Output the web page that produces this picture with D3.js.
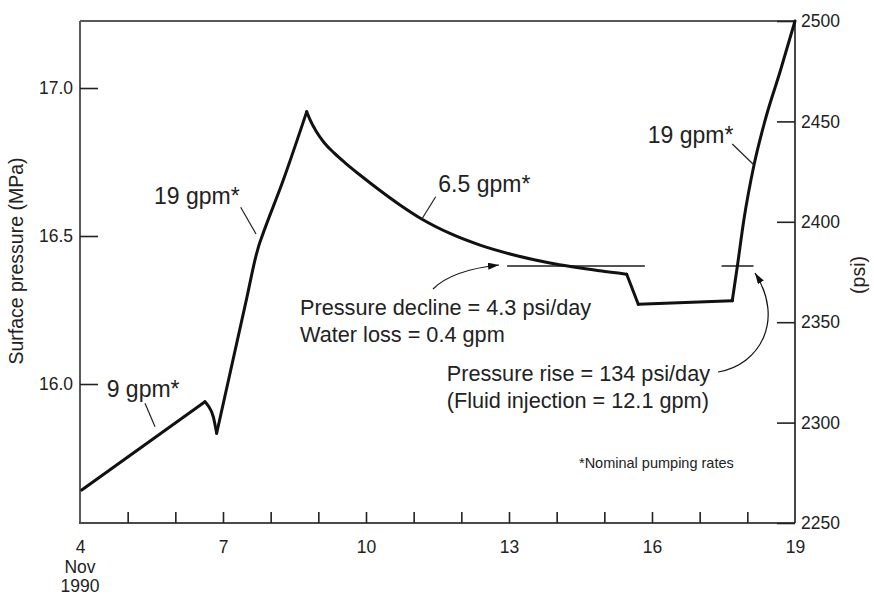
<!DOCTYPE html>
<html>
<head>
<meta charset="utf-8">
<script src="https://cdn.jsdelivr.net/npm/d3@7"></script>
<style>
  html, body { margin: 0; padding: 0; background: #fff; }
  svg { display: block; font-family: "Liberation Sans", Arial, Helvetica, sans-serif; }
</style>
</head>
<body>
<svg id="chart" width="874" height="596"></svg>
<script>
// ---- data (day of Nov 1990, surface pressure in psi) ----
const days = [4.036, 6.622, 6.692, 6.797, 6.867, 7.497, 7.692, 7.755, 7.818, 8.265, 8.756,
              8.825, 8.951, 9.119, 9.329, 9.580, 9.874, 10.294, 10.713, 11.168, 11.762, 12.392, 13.021,
              13.860, 14.909, 15.469,
              15.712, 17.684, 17.789, 17.930, 18.140, 18.392, 18.685, 19.0];
const psi  = [2266.4, 2310.4, 2308.3, 2302.9, 2294.7, 2361.9, 2383.0, 2388.4, 2392.7, 2420.8, 2454.8,
              2450.9, 2445.2, 2439.5, 2434.3, 2429.0, 2423.3, 2415.6, 2408.4, 2401.4, 2394.2, 2388.4, 2384.0,
              2379.5, 2375.6, 2373.9,
              2358.9, 2360.7, 2377.6, 2401.4, 2428.3, 2452.2, 2474.6, 2500.0];
// indices where the record has a sharp corner (pumping-rate changes)
const corners = [0, 1, 4, 10, 25, 26, 27, 33];

// reference level lines (start day, end day, psi)
const refStart = [12.96, 17.46];
const refEnd   = [15.85, 18.13];
const refPsi   = [2378, 2378];

// tick values / labels
const dayTicks = [4,5,6,7,8,9,10,11,12,13,14,15,16,17,18,19];
const dayLabeled = [4,7,10,13,16,19];
const mpaTicks = [16.0, 16.5, 17.0];
const psiTicks = [2250, 2300, 2350, 2400, 2450, 2500];

// ---- layout ----
const L = 80, R = 795, T = 21, B = 523;
const svg = d3.select("#chart");
const x = d3.scaleLinear().domain([4, 19]).range([L, R]);
const yPsi = d3.scaleLinear().domain([2250, 2500]).range([B, T]);
const yMpa = d3.scaleLinear().domain([15.5304, 17.2264]).range([B, T]);

const ink = "#222";
const tickFont = 17.5;

// frame
svg.append("line").attr("x1", L).attr("x2", R).attr("y1", T).attr("y2", T)
  .attr("stroke", "#5a5a5a").attr("stroke-width", 2);
svg.append("line").attr("x1", L).attr("x2", L).attr("y1", T).attr("y2", B)
  .attr("stroke", "#5a5a5a").attr("stroke-width", 2);
svg.append("line").attr("x1", L - 1).attr("x2", R).attr("y1", B).attr("y2", B)
  .attr("stroke", "#4a4a4a").attr("stroke-width", 2);
svg.append("line").attr("x1", R).attr("x2", R).attr("y1", T).attr("y2", B)
  .attr("stroke", "#1a1a1a").attr("stroke-width", 1.6);

// left axis (MPa)
const gl = svg.append("g").attr("transform", `translate(${L},0)`)
  .call(d3.axisLeft(yMpa).tickValues(mpaTicks).tickFormat(d3.format(".1f")).tickSize(-18).tickPadding(7));
// right axis (psi)
const gr = svg.append("g").attr("transform", `translate(${R},0)`)
  .call(d3.axisRight(yPsi).tickValues(psiTicks).tickFormat(d3.format("d")).tickSize(-18).tickPadding(6));
// bottom axis (days)
const gb = svg.append("g").attr("transform", `translate(0,${B})`)
  .call(d3.axisBottom(x).tickValues(dayTicks)
    .tickFormat(d => dayLabeled.includes(d) ? String(d) : "").tickSize(-11).tickPadding(18));

[gl, gr, gb].forEach(g => {
  g.select(".domain").remove();
  g.selectAll(".tick line").attr("stroke", ink).attr("stroke-width", 1.6);
  g.selectAll(".tick text").attr("fill", ink).attr("font-size", tickFont)
    .attr("font-family", "Liberation Sans, Arial, sans-serif");
});
gb.selectAll(".tick").filter(d => d === 4 || d === 19).select("line").remove();

// "Nov 1990" under first tick
svg.append("text").attr("x", x(4)).attr("y", 572.5).attr("text-anchor", "middle")
  .attr("font-size", tickFont).attr("fill", ink).text("Nov");
svg.append("text").attr("x", x(4)).attr("y", 592).attr("text-anchor", "middle")
  .attr("font-size", tickFont).attr("fill", ink).text("1990");

// axis titles
svg.append("text").attr("transform", "translate(16,261) rotate(-90)")
  .attr("text-anchor", "middle").attr("dominant-baseline", "central")
  .attr("font-size", 19.5).attr("fill", ink).text("Surface pressure (MPa)");
svg.append("text").attr("transform", "translate(858,275) rotate(-90)")
  .attr("text-anchor", "middle").attr("dominant-baseline", "central")
  .attr("font-size", 19.5).attr("fill", ink).text("(psi)");

// reference lines
const refs = refStart.map((s, i) => ({ s, e: refEnd[i], p: refPsi[i] }));
svg.selectAll(".ref").data(refs).enter().append("line")
  .attr("x1", d => x(d.s)).attr("x2", d => x(d.e))
  .attr("y1", d => yPsi(d.p)).attr("y2", d => yPsi(d.p))
  .attr("stroke", "#555").attr("stroke-width", 2);

// pressure curve: smooth pieces between corners
const pts = days.map((d, i) => ({ d, p: psi[i] }));
const line = d3.line().x(d => x(d.d)).y(d => yPsi(d.p)).curve(d3.curveMonotoneX);
const pieces = d3.pairs(corners).map(([a, b]) => pts.slice(a, b + 1));
svg.selectAll(".seg").data(pieces).enter().append("path")
  .attr("d", line)
  .attr("fill", "none").attr("stroke", "#111").attr("stroke-width", 3)
  .attr("stroke-linejoin", "round").attr("stroke-linecap", "round");

// arrow marker
const defs = svg.append("defs");
defs.append("marker").attr("id", "arr").attr("markerUnits", "userSpaceOnUse")
  .attr("markerWidth", 12).attr("markerHeight", 8).attr("refX", 11).attr("refY", 3.5)
  .attr("orient", "auto")
  .append("path").attr("d", "M0,0 L11,3.5 L0,7 Z").attr("fill", "#111");

// annotation arrows
svg.append("path").attr("d", "M433,289 Q452,270 499,265")
  .attr("fill", "none").attr("stroke", "#111").attr("stroke-width", 1.2).attr("marker-end", "url(#arr)");
svg.append("path").attr("d", "M718,372 C760,365 785,320 755,273")
  .attr("fill", "none").attr("stroke", "#111").attr("stroke-width", 1.2).attr("marker-end", "url(#arr)");

// leader lines
const leaders = [[145,403.3,155,426.7],[240.7,207.3,256,234],[435.7,196.7,421.7,219.3],[732.3,144,754,165]];
svg.selectAll(".leader").data(leaders).enter().append("line")
  .attr("x1", d => d[0]).attr("y1", d => d[1]).attr("x2", d => d[2]).attr("y2", d => d[3])
  .attr("stroke", ink).attr("stroke-width", 1.2);

// labels
const rateLabels = [["9 gpm*",106.7,396.7],["19 gpm*",154,204],["6.5 gpm*",438.3,191.7],["19 gpm*",647.7,143.3]];
svg.selectAll(".rate").data(rateLabels).enter().append("text")
  .attr("x", d => d[1]).attr("y", d => d[2]).attr("font-size", 23).attr("fill", ink).text(d => d[0]);

const notes = [["Pressure decline = 4.3 psi/day",300,314.5],["Water loss = 0.4 gpm",300,341.7],
               ["Pressure rise = 134 psi/day",446.7,381],["(Fluid injection = 12.1 gpm)",446.7,407.5]];
svg.selectAll(".note").data(notes).enter().append("text")
  .attr("x", d => d[1]).attr("y", d => d[2]).attr("font-size", 21.7).attr("fill", ink).text(d => d[0]);

svg.append("text").attr("x", 579).attr("y", 468).attr("font-size", 14.5).attr("fill", ink)
  .text("*Nominal pumping rates");
</script>
</body>
</html>
